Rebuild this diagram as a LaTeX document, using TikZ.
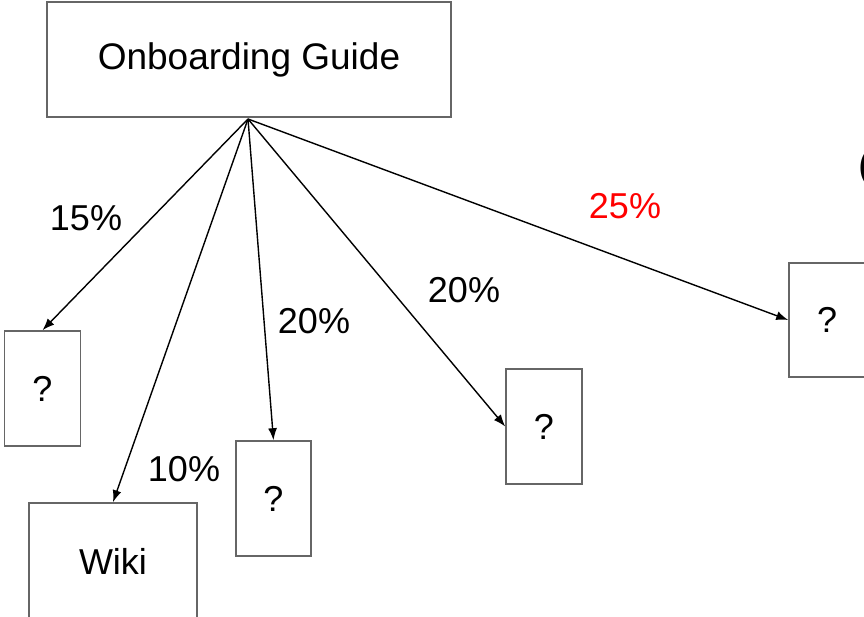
\documentclass[tikz,border=0pt]{standalone}
\usepackage{fontspec}
\setmainfont{Liberation Sans}
\usetikzlibrary{arrows.meta}
\definecolor{boxgray}{HTML}{666666}
\definecolor{pctred}{HTML}{FF0000}
\begin{document}
\begin{tikzpicture}[x=1pt,y=-1pt,
  box/.style={draw=boxgray,line width=1.6pt,fill=white,inner sep=0pt,font=\fontsize{36}{43}\selectfont},
  conn/.style={line width=1.4pt,-{Latex[length=12pt,width=9pt]}},
  pct/.style={font=\fontsize{36}{43}\selectfont}]
\useasboundingbox (0,0) rectangle (864,617);
\node[box,minimum width=404pt,minimum height=115pt,font=\fontsize{37}{44}\selectfont] (guide) at (249,59.5) {Onboarding Guide};
\coordinate (o) at (248,119);
\node[box,minimum width=76pt,minimum height=115pt] (a) at (42.5,388.5) {?};
\node[box,minimum width=168pt,minimum height=116pt] (wiki) at (113,561) {Wiki};
\node[box,minimum width=75pt,minimum height=115pt] (c) at (273.5,498.5) {?};
\node[box,minimum width=76pt,minimum height=115pt] (d) at (544,426.5) {?};
\node[box,minimum width=76pt,minimum height=114pt] (e) at (827,320) {?};
\node[font=\fontsize{40}{48}\selectfont,anchor=west] (paren) at (855,168) {(};
\draw[conn] (o) -- (a.north);
\draw[conn] (o) -- (wiki.north);
\draw[conn] (o) -- (c.north);
\draw[conn] (o) -- (d.west);
\draw[conn] (o) -- (e.west);
\node[pct] (p15) at (86,218) {15\%};
\node[pct] (p10) at (184,469) {10\%};
\node[pct] (p20a) at (314,321) {20\%};
\node[pct] (p20b) at (464,290) {20\%};
\node[pct,text=pctred] (p25) at (625,206) {25\%};
\end{tikzpicture}
\end{document}
